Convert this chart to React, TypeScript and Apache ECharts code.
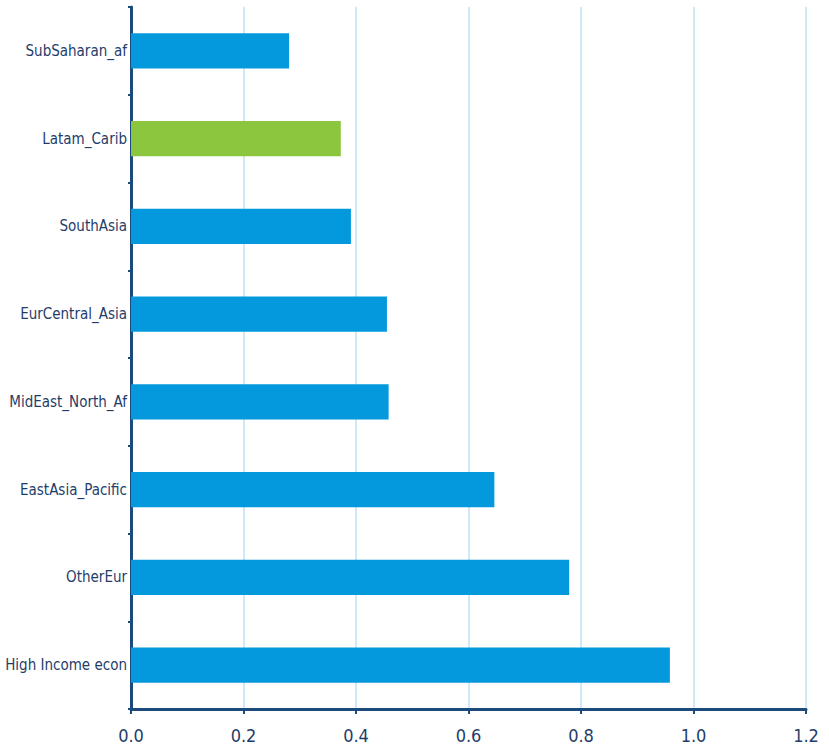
import React, { useEffect, useRef } from "react";
import * as echarts from "echarts";

const categories = [
  "SubSaharan_af",
  "Latam_Carib",
  "SouthAsia",
  "EurCentral_Asia",
  "MidEast_North_Af",
  "EastAsia_Pacific",
  "OtherEur",
  "High Income econ",
];
const values = [0.281, 0.373, 0.391, 0.455, 0.458, 0.646, 0.779, 0.958];
const highlighted = "Latam_Carib";
const xTicks = [0, 0.2, 0.4, 0.6, 0.8, 1.0, 1.2];

const BLUE = "#0399dc";
const GREEN = "#8cc63f";
const AXIS = "#1d4a7c";
const LABEL = "#1f3d6a";
const GRID = "#bfe3f2";
const FONT = "DejaVu Sans Condensed";

export default function App() {
  const ref = useRef<HTMLDivElement>(null);
  useEffect(() => {
    if (!ref.current) return;
    const chart = echarts.init(ref.current, undefined, { renderer: "svg" });
    chart.setOption({
      animation: false,
      backgroundColor: "#ffffff",
      grid: { left: 131, right: 23, top: 7, bottom: 43, containLabel: false, outerBoundsMode: "none" },
      xAxis: {
        type: "value",
        min: xTicks[0],
        max: xTicks[xTicks.length - 1],
        interval: 0.2,
        axisLine: { show: true, lineStyle: { color: AXIS, width: 3 } },
        axisTick: { show: true, length: 5, lineStyle: { color: AXIS, width: 2 } },
        axisLabel: {
          color: LABEL,
          fontFamily: FONT,
          fontSize: 18,
          margin: 17,
          formatter: (v: number) => v.toFixed(1),
        },
        splitLine: { show: true, lineStyle: { color: GRID, width: 1.5 } },
      },
      yAxis: {
        type: "category",
        data: categories,
        inverse: true,
        axisLine: { show: true, lineStyle: { color: AXIS, width: 3 } },
        axisTick: { show: true, length: 3, lineStyle: { color: AXIS, width: 2 } },
        axisLabel: {
          color: LABEL,
          fontFamily: FONT,
          fontSize: 15,
          margin: 4,
        },
        splitLine: { show: false },
      },
      series: [
        {
          type: "bar",
          data: values.map((v, i) => ({
            value: v,
            itemStyle: { color: categories[i] === highlighted ? GREEN : BLUE },
          })),
          barWidth: "40%",
        },
      ],
    });
    return () => chart.dispose();
  }, []);
  return <div ref={ref} style={{ width: 829, height: 752, position: "absolute", left: 0, top: 0 }} />;
}
